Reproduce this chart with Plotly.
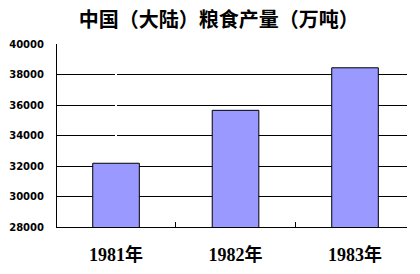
import plotly.graph_objects as go

categories = ["1981年", "1982年", "1983年"]
values = [32180, 35650, 38440]
y_ticks = [28000, 30000, 32000, 34000, 36000, 38000, 40000]

fig = go.Figure()
fig.add_trace(go.Bar(
    x=list(range(len(categories))),
    y=values,
    width=0.39,
    marker=dict(color="#9999ff", line=dict(color="black", width=1)),
    hoverinfo="skip",
))
fig.add_trace(go.Scatter(x=[0.5, 1.5], y=[None, None], xaxis="x2",
                         showlegend=False, hoverinfo="skip"))

fig.update_layout(
    width=420, height=274,
    margin=dict(l=57, r=13, t=44, b=47, autoexpand=False),
    paper_bgcolor="white", plot_bgcolor="white",
    showlegend=False,
    title=dict(
        text="中国（大陆）粮食产量（万吨）",
        x=0.521, xanchor="center", y=0.927, yanchor="middle",
        font=dict(family="Noto Sans CJK SC", size=20, color="black", weight="bold"),
    ),
    xaxis2=dict(overlaying="x", matches="x", tickmode="array",
                tickvals=[0.5, 1.5], ticktext=["", ""],
                ticks="inside", ticklen=5, tickcolor="black",
                showgrid=False, showline=False, side="bottom", automargin=False),
)
fig.layout.xaxis.update(tickmode="array", tickvals=list(range(len(categories))), ticktext=categories,
                        range=[-0.494, 2.435], showgrid=False, showline=True, linecolor="black",
                        linewidth=1, ticks="",
                        tickfont=dict(family="Liberation Serif, Noto Sans CJK SC", size=18,
                                      color="black", weight="bold"),
                        ticklabelstandoff=11, automargin=False)
fig.update_yaxes(
    range=[28000, 40000],
    tickmode="array", tickvals=y_ticks, ticktext=[str(v) for v in y_ticks],
    showgrid=True, gridcolor="black", gridwidth=1,
    showline=True, linecolor="black", linewidth=1,
    ticks="", ticklabelstandoff=10,
    tickfont=dict(family="DejaVu Sans", size=10, color="black", weight="bold"),
    zeroline=False, automargin=False,
)
fig.write_html("out.html")
